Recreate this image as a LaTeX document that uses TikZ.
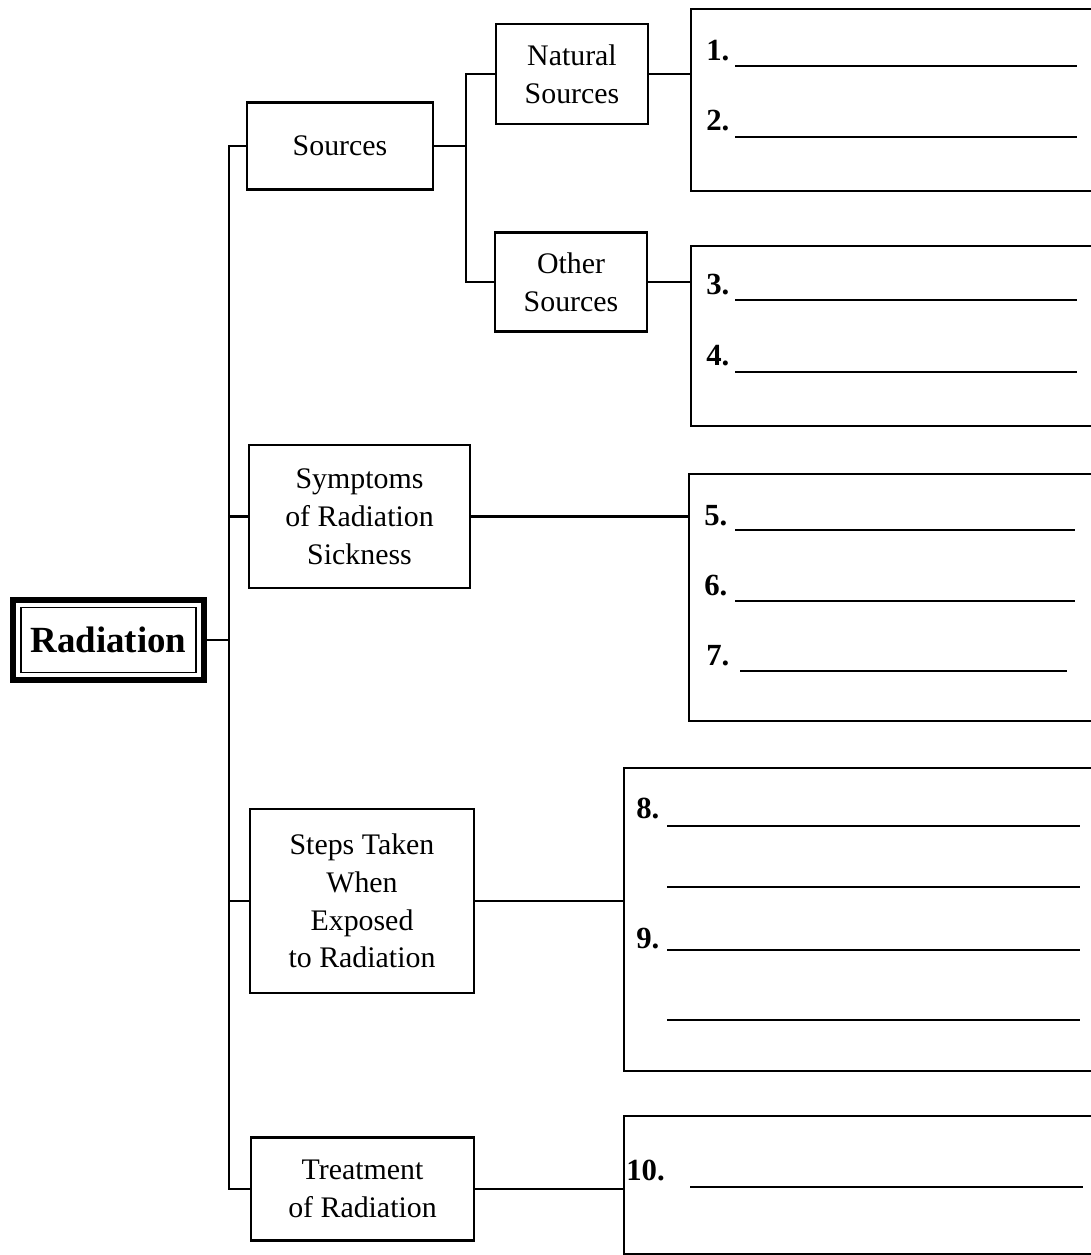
\documentclass[tikz,border=0pt]{standalone}
\usepackage{fontspec}
\setmainfont{Liberation Serif}

\begin{document}
\begin{tikzpicture}
[
    x=0.02cm, y=-0.02cm,
    every node/.style={font=\fontsize{17}{21.5}\selectfont, align=center, inner sep=0pt},
    box/.style={draw, line width=1.3pt},
    ansbox/.style={draw, line width=1.3pt, anchor=north west, minimum width=8.4cm},
    num/.style={anchor=base west, font=\fontsize{17.5}{20}\selectfont\bfseries},
    conn/.style={line width=1.3pt},
    blank/.style={line width=1pt},
]
\clip (0,0) rectangle (1091,1255);

\node [draw, line width=1pt, minimum width=3.5cm, minimum height=1.3cm,
       font=\fontsize{21}{24}\selectfont\bfseries] (radin) at (108.5,640) {Radiation};
\node [draw, line width=3.4pt, minimum width=3.82cm, minimum height=1.6cm] (rad) at (108.5,640) {};

\node [box, minimum width=3.72cm, minimum height=1.74cm] (src) at (340,146) {Sources};
\node [box, minimum width=3.04cm, minimum height=2.0cm] (nat) at (572,74) {Natural\\Sources};
\node [box, minimum width=3.04cm, minimum height=1.98cm] (oth) at (571,282) {Other\\Sources};
\node [box, minimum width=4.42cm, minimum height=2.86cm] (sym) at (359.5,516.5) {Symptoms\\of Radiation\\Sickness};
\node [box, minimum width=4.48cm, minimum height=3.68cm] (stp) at (362,901) {Steps Taken\\When\\Exposed\\to Radiation};
\node [box, minimum width=4.46cm, minimum height=2.06cm] (trt) at (362.5,1189) {Treatment\\of Radiation};

\node [ansbox, minimum height=3.64cm] (ans1) at (690,8) {};
\node [ansbox, minimum height=3.6cm] (ans2) at (690,245) {};
\node [ansbox, minimum height=4.94cm] (ans3) at (688,473) {};
\node [ansbox, minimum width=9.8cm, minimum height=6.06cm] (ans4) at (623,767) {};
\node [ansbox, minimum width=9.8cm, minimum height=2.76cm] (ans5) at (623,1115) {};

\coordinate (trunk) at (229,0);
\coordinate (split) at (466,0);

\draw [conn] (rad.east) -- (rad.east -| trunk);
\draw [conn] (src.west) -| (trunk |- trt.west) -- (trt.west);
\draw [conn] (sym.west) -- (sym.west -| trunk);
\draw [conn] (stp.west) -- (stp.west -| trunk);
\draw [conn] (src.east) -- (src.east -| split);
\draw [conn] (nat.west) -| (split |- oth.west) -- (oth.west);
\draw [conn] (nat.east) -- (nat.east -| ans1.west);
\draw [conn] (oth.east) -- (oth.east -| ans2.west);
\draw [conn] (sym.east) -- (sym.east -| ans3.west);
\draw [conn] (stp.east) -- (stp.east -| ans4.west);
\draw [conn] (trt.east) -- (trt.east -| ans5.west);

\node [num] (n1) at (706,60) {1.};
\node [num] (n2) at (706,130) {2.};
\node [num] (n3) at (706,294) {3.};
\node [num] (n4) at (706,365) {4.};
\node [num] (n5) at (704,525) {5.};
\node [num] (n6) at (704,595) {6.};
\node [num] (n7) at (706,665) {7.};
\node [num] (n8) at (636,818) {8.};
\node [num] (n9) at (636,948) {9.};
\node [num] (n10) at (626,1180) {10.};

\draw [blank] (735,66) -- (1077,66);
\draw [blank] (735,137) -- (1077,137);
\draw [blank] (735,300) -- (1077,300);
\draw [blank] (735,372) -- (1077,372);
\draw [blank] (735,530) -- (1075,530);
\draw [blank] (735,601) -- (1075,601);
\draw [blank] (740,671) -- (1067,671);
\draw [blank] (667,826) -- (1080,826);
\draw [blank] (667,887) -- (1080,887);
\draw [blank] (667,950) -- (1080,950);
\draw [blank] (667,1020) -- (1080,1020);
\draw [blank] (690,1187) -- (1083,1187);
\end{tikzpicture}
\end{document}
